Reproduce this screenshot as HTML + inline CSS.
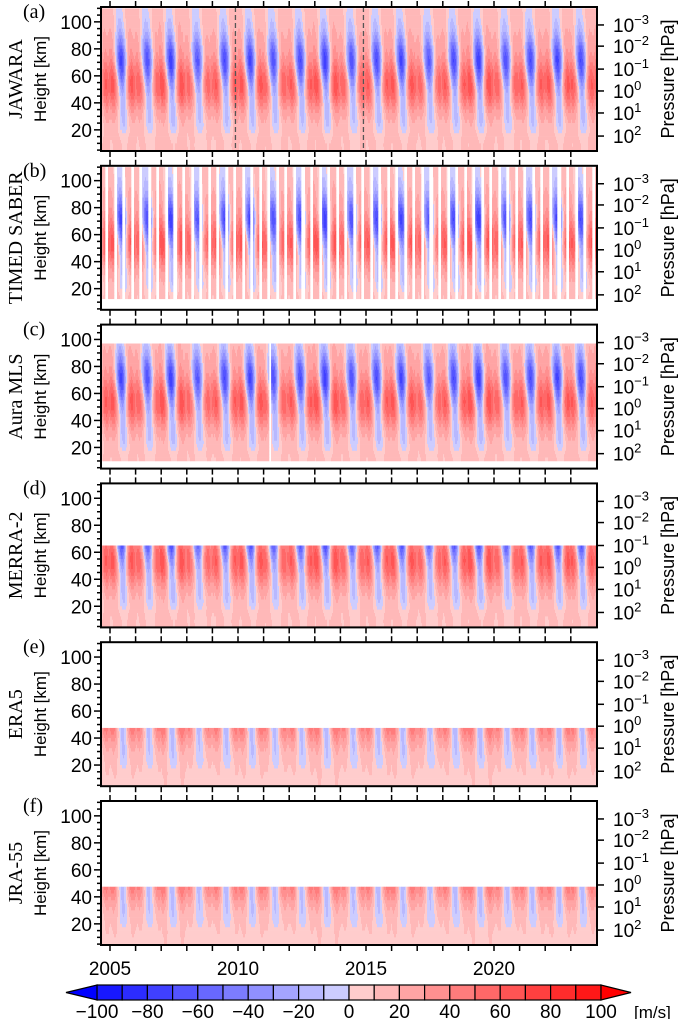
<!DOCTYPE html>
<html><head><meta charset="utf-8">
<style>
html,body{margin:0;padding:0;background:#fff;}
svg{display:block;}
.num{font-family:"Liberation Sans",sans-serif;font-size:19px;fill:#000;}
.ser{font-family:"Liberation Serif",serif;font-size:20px;fill:#000;}
</style></head>
<body>
<svg id="fig" width="685" height="1019" viewBox="0 0 685 1019" xmlns="http://www.w3.org/2000/svg"></svg>
<script>
// ---- data ----
const heights=[5,10,15,20,25,30,35,40,45,50,55,60,65,70,75,80,85,90,95,100,105,110];
const westPeak=[12,12,14,17,22,28,36,48,60,68,70,66,58,48,40,34,30,26,22,20,18,16];
const eastPeak=[9,9,6,-6,-12,-14,-15,-16,-20,-26,-38,-52,-64,-72,-68,-58,-42,-28,-18,-12,-8,-5];
const blueCenters=[2004.45,2005.46,2006.48,2007.40,2008.44,2009.50,2010.50,2011.40,2012.45,2013.42,2014.46,2015.44,2016.40,2017.47,2018.45,2019.42,2020.48,2021.45,2022.50,2023.42];
const yearAmp=[1.0,1.05,0.95,1.1,0.9,1.0,1.05,0.95,1.0,1.1,0.95,1.0,1.05,0.9,1.0,1.1,0.95,1.0,1.05,1.0];
const datasetNames=["JAWARA","TIMED SABER","Aura MLS","MERRA-2","ERA5","JRA-55"];
const datasetAmp=[1.0,1.0,1.0,1.0,0.8,0.8];
const panelLetters=["(a)","(b)","(c)","(d)","(e)","(f)"];
const datasetTop=[111,111,97,65,48,48];
const datasetBottom=[4,11.5,9.3,4,4,4];
const yearLabels=[2005,2010,2015,2020];
const kmTicks=[20,40,60,80,100];
const pressureExp=[-3,-2,-1,0,1,2];
const pressureKm=[97.7,82,65,48.8,32.5,15.4];
const dashedYears=[2009.9,2014.9];
const mlsGapYear=2011.26;
const cbLevels=[-100,-80,-60,-40,-20,0,20,40,60,80,100];

// ---- geometry ----
const X0=101,X1=597,PH=144,TOPS=[7,165.8,324.6,483.4,642.2,801];
const xOf=t=>110+(t-2005)*25.6;
const tOf=x=>2005+(x-110)/25.6;
const yOf=(p,z)=>TOPS[p]+(111-z)*1.35;
const svg=document.getElementById('fig');
const NS="http://www.w3.org/2000/svg";
function mk(tag,attrs,parent){const e=document.createElementNS(NS,tag);for(const k in attrs)e.setAttribute(k,attrs[k]);(parent||svg).appendChild(e);return e;}
function interp(arr,z){if(z<=heights[0])return arr[0];if(z>=heights[heights.length-1])return arr[arr.length-1];
 const i=Math.floor((z-5)/5);const f=(z-heights[i])/5;return arr[i]*(1-f)+arr[i+1]*f;}
function value(t,z,amp){
 const W=interp(westPeak,z),E=interp(eastPeak,z);
 const shift=0.002*(z-60);
 let best=1e9,bi=0;
 for(let i=0;i<blueCenters.length;i++){const d=Math.abs(t-(blueCenters[i]-shift));if(d<best){best=d;bi=i;}}
 const g=Math.exp(-Math.pow(best/0.22,2));
 const a=yearAmp[bi]*amp;
 // red has a secondary dip in the middle of the cycle
 const r=1-0.25*Math.exp(-Math.pow((best-0.5)/0.08,2));
 return W*a*(1-g)*r+E*a*g;
}
function color(v){
 if(v>=100)return "#ff0000"; if(v<=-100)return "#0000ff";
 if(v>=0){const i=Math.floor(v/10);const c=204-i*20;return `rgb(255,${c},${c})`;}
 const j=Math.floor(-v/10-1e-9);const c=204-j*20;return `rgb(${c},${c},255)`;
}
function present(p,t,z){
 if(z>datasetTop[p]||z<datasetBottom[p])return false;
 if(p===1){const ph=((t-2004.6)*3)%1;if(ph>0.64)return false;}
 if(p===2&&Math.abs(xOf(t)-xOf(mlsGapYear))<0.8)return false;
 return true;
}

mk('rect',{x:0,y:0,width:685,height:1019,fill:'#fff'});

for(let p=0;p<6;p++){
 const top=TOPS[p],bot=top+PH;
 const g=mk('g',{});
 
 
 const cp=mk('clipPath',{id:'cp'+p},g);mk('rect',{x:X0,y:top,width:X1-X0,height:PH},cp);
 const field=mk('g',{'clip-path':`url(#cp${p})`},g);
 
 
 const dz=2.5,dx=1;
 for(let z=110;z>=3;z-=dz){
  const zc=z-dz/2;
  const y0=yOf(p,z),h=dz*1.35;
  let runStart=null,runCol=null;
  for(let x=X0;x<=X1;x+=dx){
   let col=null;
   if(x<X1){const t=tOf(x+dx/2);if(present(p,t,zc))col=color(value(t,zc,datasetAmp[p]));}
   if(col!==runCol){
    if(runCol){const r=mk('rect',{x:runStart,y:y0,width:x-runStart+0.3,height:h+0.3,fill:runCol},field);
     
     }
    runStart=x;runCol=col;
   }
  }
 }
 if(p>=2){const yt=yOf(p,datasetTop[p]);mk('rect',{x:X0,y:top,width:X1-X0,height:yt-top,fill:'#fff'},field);}
 if(p===0){for(const d of dashedYears){const l=mk('line',{x1:xOf(d),x2:xOf(d),y1:top,y2:bot,stroke:'#555','stroke-width':1.3,'stroke-dasharray':'5,3'},g);
  
  }}
 const fr=mk('rect',{x:X0,y:top,width:X1-X0,height:PH,fill:'none',stroke:'#000','stroke-width':2},g);
 
 
 for(let yr=2005;yr<=2023;yr++){const x=xOf(yr);
  mk('line',{x1:x,x2:x,y1:top-6,y2:top,stroke:'#000','stroke-width':1.5},g);
  mk('line',{x1:x,x2:x,y1:bot,y2:bot+6,stroke:'#000','stroke-width':1.5},g);}
 for(let z=5;z<=110;z+=5){const y=yOf(p,z);const L=(z%20===0)?7:4;
  mk('line',{x1:X0-L,x2:X0,y1:y,y2:y,stroke:'#000','stroke-width':1.5},g);}
 for(const z of kmTicks){const t=mk('text',{x:92,y:yOf(p,z)+7,'text-anchor':'end',class:'num'},g);t.textContent=z;
  
  }
 pressureExp.forEach((e,i)=>{const y=yOf(p,pressureKm[i]);
  mk('line',{x1:X1,x2:X1+7,y1:y,y2:y,stroke:'#000','stroke-width':1.5},g);
  const t=mk('text',{x:613,y:y+7,class:'num'},g);t.textContent='10';
  const s=mk('tspan',{dy:-8,style:'font-size:13px'},t);s.textContent=(e<0?'\u2212':'')+Math.abs(e);
  
  });
 const cy=top+PH/2;
 const hl=mk('text',{x:0,y:0,transform:`translate(46,${cy}) rotate(-90)`,'text-anchor':'middle',style:'font-family:"Liberation Sans",sans-serif;font-size:17px'},g);hl.textContent='Height [km]';
 
 
 const dl=mk('text',{x:0,y:0,transform:`translate(22,${cy}) rotate(-90)`,'text-anchor':'middle',class:'ser'},g);dl.textContent=datasetNames[p];
 
 
 const pl=mk('text',{x:0,y:0,transform:`translate(674,${cy}) rotate(-90)`,'text-anchor':'middle',style:'font-family:"Liberation Sans",sans-serif;font-size:18px'},g);pl.textContent='Pressure [hPa]';
 
 
 const lt=mk('text',{x:23,y:top+11,class:'ser'},g);lt.textContent=panelLetters[p];
 
 
}
for(const yr of yearLabels){const t=mk('text',{x:xOf(yr),y:975,'text-anchor':'middle',class:'num'});t.textContent=yr;
 
 }
const cbg=mk('g',{});


const CB0=97,CB1=601,CBY=985,CBH=15,bw=(CB1-CB0)/20;
for(let i=0;i<20;i++){const v=-100+i*10+5;
 const r=mk('rect',{x:CB0+i*bw,y:CBY,width:bw,height:CBH,fill:color(v),stroke:'#000','stroke-width':1.2},cbg);
 
 }
mk('polygon',{points:`${CB0},${CBY} ${CB0},${CBY+CBH} 66,${CBY+CBH/2}`,fill:'#0000ff',stroke:'#000','stroke-width':1.2},cbg);
mk('polygon',{points:`${CB1},${CBY} ${CB1},${CBY+CBH} 631,${CBY+CBH/2}`,fill:'#ff0000',stroke:'#000','stroke-width':1.2},cbg);
for(const v of cbLevels){const t=mk('text',{x:CB0+(v+100)/10*bw,y:1018,'text-anchor':'middle',class:'num'},cbg);t.textContent=(v<0?'\u2212':'')+Math.abs(v);
 
 }
const un=mk('text',{x:634,y:1018,style:'font-family:"Liberation Sans",sans-serif;font-size:17px'},cbg);un.textContent='[m/s]';


</script>
</body></html>
